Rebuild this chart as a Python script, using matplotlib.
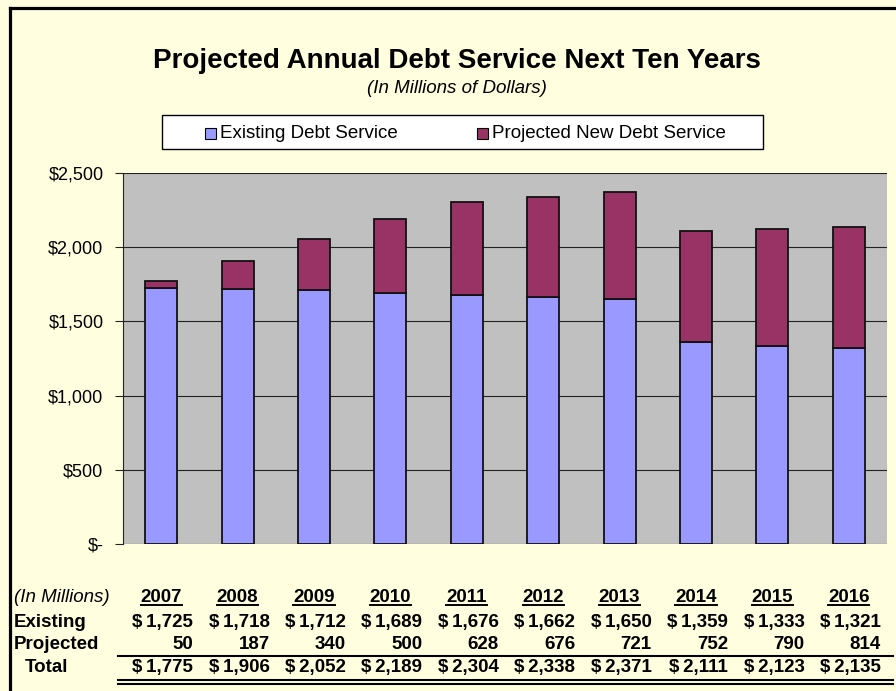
import matplotlib
matplotlib.use("Agg")
import matplotlib.pyplot as plt
from matplotlib.lines import Line2D
from matplotlib.patches import Rectangle
import matplotlib.transforms as mtransforms

plt.rcParams['font.family'] = ['Liberation Sans', 'DejaVu Sans']

# data (in millions of dollars), as printed in the table
years = ["2007", "2008", "2009", "2010", "2011", "2012", "2013", "2014", "2015", "2016"]
existing = [1725, 1718, 1712, 1689, 1676, 1662, 1650, 1359, 1333, 1321]
projected = [50, 187, 340, 500, 628, 676, 721, 752, 790, 814]
totals = [1775, 1906, 2052, 2189, 2304, 2338, 2371, 2111, 2123, 2135]
yticks = [0, 500, 1000, 1500, 2000, 2500]
ytick_labels = ["$-", "$500", "$1,000", "$1,500", "$2,000", "$2,500"]

c_exist = "#9999FF"
c_proj = "#993366"
bg = "#FFFFE0"

W, H = 896, 691
fig = plt.figure(figsize=(W / 100, H / 100), dpi=100, facecolor=bg)

def fx(px):
    return px / W

def fy(py):
    return 1 - py / H

# black frame on top and left
fig.add_artist(Line2D([fx(9.5), 1], [fy(7.5), fy(7.5)], color="black", lw=2.3, transform=fig.transFigure))
fig.add_artist(Line2D([fx(9.5), fx(9.5)], [0, fy(7.5)], color="black", lw=2.3, transform=fig.transFigure))

# plot area
ax = fig.add_axes([fx(123), fy(544), fx(887) - fx(123), fy(173) - fy(544)])
ax.set_facecolor("#C0C0C0")
x = list(range(len(years)))
ax.bar(x, existing, width=0.42, color=c_exist, edgecolor="#111111", linewidth=1.3, zorder=3)
ax.bar(x, projected, bottom=existing, width=0.42, color=c_proj, edgecolor="#111111", linewidth=1.3, zorder=3)
ax.set_xlim(-0.5, len(years) - 0.5)
ax.set_ylim(0, 2500)
ax.set_yticks(yticks)
ax.set_yticklabels(ytick_labels, fontsize=13)
ax.set_xticks([])
ax.yaxis.grid(True, color="#222222", linewidth=0.8, zorder=0)
ax.set_axisbelow(True)
for s in ["top", "right", "bottom"]:
    ax.spines[s].set_visible(False)
ax.spines["left"].set_color("#222222")
ax.spines["left"].set_linewidth(0.8)
ax.tick_params(axis="y", length=6, width=0.8, color="#222222", pad=8)

# titles
fig.text(fx(457), fy(68), "Projected Annual Debt Service Next Ten Years",
         ha="center", va="baseline", fontsize=20, fontweight="bold")
fig.text(fx(457), fy(93), "(In Millions of Dollars)", ha="center", va="baseline",
         fontsize=13.5, style="italic")

# legend box
fig.add_artist(Rectangle((fx(162), fy(149)), fx(763) - fx(162), fy(115) - fy(149),
                         facecolor="white", edgecolor="black", lw=1, transform=fig.transFigure))
for lx, col, lab in [(205, c_exist, "Existing Debt Service"), (477, c_proj, "Projected New Debt Service")]:
    fig.add_artist(Rectangle((fx(lx), fy(139)), fx(11), fy(128) - fy(139), facecolor=col,
                             edgecolor="black", lw=0.8, transform=fig.transFigure))
    fig.text(fx(lx + 15), fy(138.5), lab, ha="left", va="baseline", fontsize=13.5)

# table under the chart (baselines in pixels from the top)
tr = mtransforms.blended_transform_factory(ax.transData, fig.transFigure)
fs = 13.5
row_y = {"year": 602, "exist": 627, "proj": 649, "tot": 672}
fig.text(fx(14), fy(row_y["year"]), "(In Millions)", ha="left", va="baseline", fontsize=fs, style="italic")
fig.text(fx(14), fy(row_y["exist"]), "Existing", ha="left", va="baseline", fontsize=fs, fontweight="bold")
fig.text(fx(14), fy(row_y["proj"]), "Projected", ha="left", va="baseline", fontsize=fs, fontweight="bold")
fig.text(fx(25), fy(row_y["tot"]), "Total", ha="left", va="baseline", fontsize=fs, fontweight="bold")
for i, yr in enumerate(years):
    ax.text(i, fy(row_y["year"]), yr, ha="center", va="baseline", fontsize=fs,
            fontweight="bold", transform=tr)
    ax.add_line(Line2D([i - 0.27, i + 0.27], [fy(605), fy(605)], color="black", lw=1.4,
                       transform=tr, clip_on=False))
    ax.text(i + 0.42, fy(row_y["exist"]), f"$\u2009{existing[i]:,}", ha="right", va="baseline",
            fontsize=fs, fontweight="bold", transform=tr)
    ax.text(i + 0.42, fy(row_y["proj"]), f"{projected[i]:,}", ha="right", va="baseline",
            fontsize=fs, fontweight="bold", transform=tr)
    ax.text(i + 0.42, fy(row_y["tot"]), f"$\u2009{totals[i]:,}", ha="right", va="baseline",
            fontsize=fs, fontweight="bold", transform=tr)

for yy in [655.5, 679.5, 683.5]:
    fig.add_artist(Line2D([fx(118), fx(893)], [fy(yy), fy(yy)], color="black", lw=1.5,
                          transform=fig.transFigure))

fig.savefig("out.png", dpi=100, facecolor=bg)
